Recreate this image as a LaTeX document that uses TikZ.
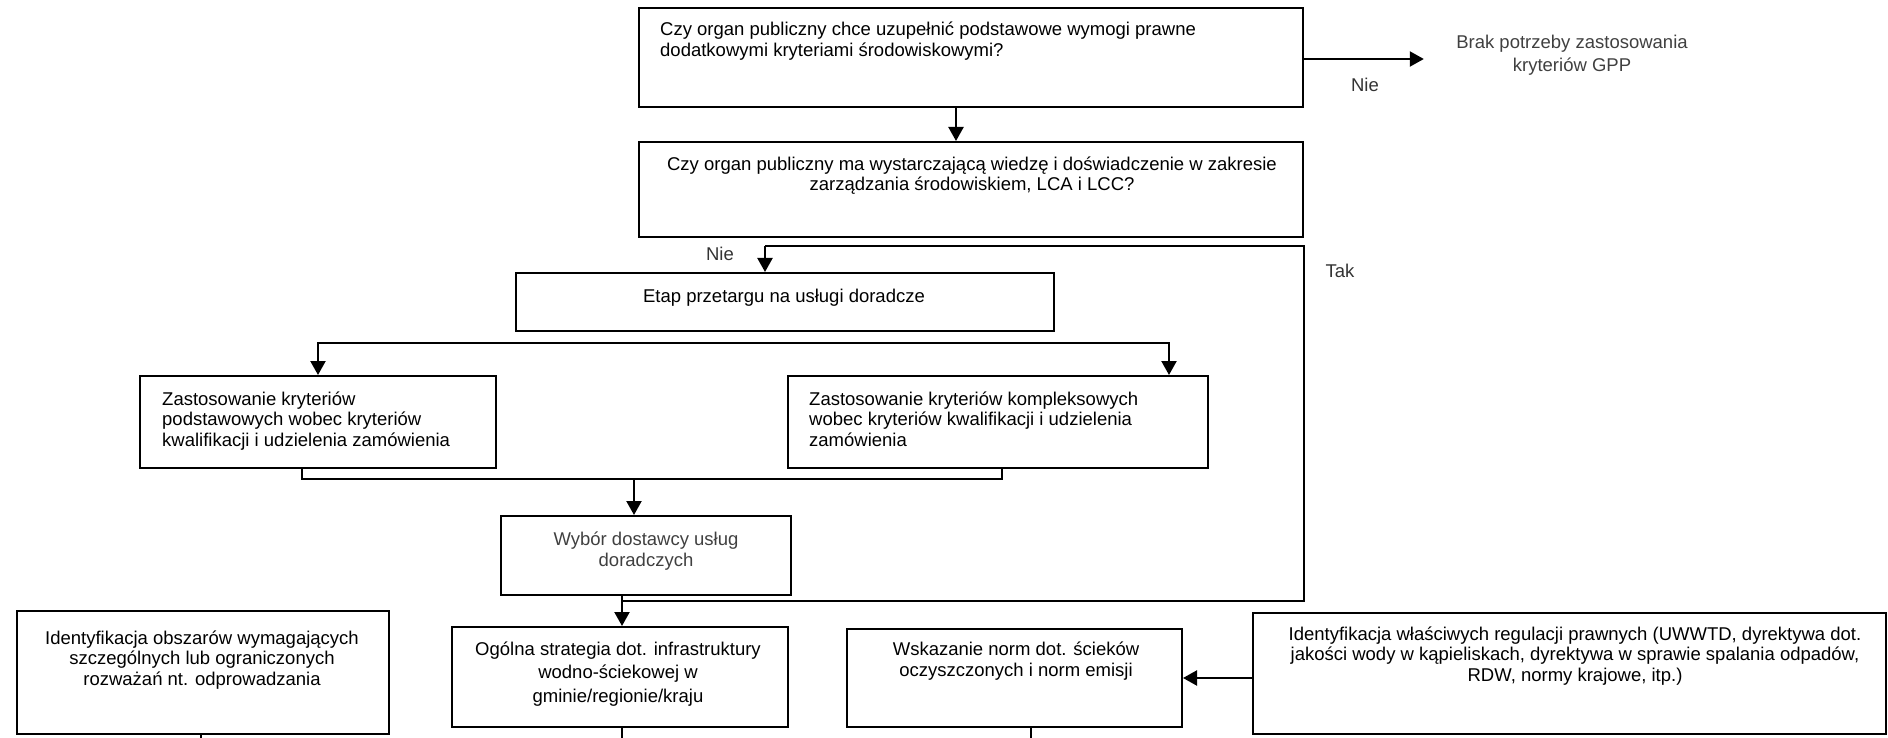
\documentclass[tikz,border=0pt]{standalone}
\usepackage{fontspec}
\setmainfont{Liberation Sans}
\usetikzlibrary{arrows.meta}
\definecolor{textgray}{HTML}{404040}
\definecolor{labgray}{HTML}{333333}
\newcommand{\mybox}[5]{\node[bx, minimum width={(#4-#2)*1pt}, minimum height={(#5-#3)*1pt}] (#1) at ({(#2+#4)/2},{(#3+#5)/2}) {};}
\begin{document}
\begin{tikzpicture}[x=1pt,y=-1pt,
  bx/.style={draw=black, line width=2pt, inner sep=0pt},
  ln/.style={draw=black, line width=2.2pt},
  arr/.style={ln, -{Triangle[length=14pt,width=15pt]}},
  tx/.style={inner sep=0pt, font=\fontsize{18.5}{20.5}\selectfont, text=black},
  gtx/.style={tx, text=textgray},
  lab/.style={tx, text=labgray}]
\useasboundingbox (0,0) rectangle (1888,738);

% boxes
\mybox{q1}{639}{8}{1303}{107}
\mybox{q2}{639}{142}{1303}{237}
\mybox{b3}{516}{273}{1054}{331}
\mybox{b4}{140}{376}{496}{468}
\mybox{b5}{788}{376}{1208}{468}
\mybox{b6}{501}{516}{791}{595}
\mybox{b7}{17}{611}{389}{734}
\mybox{b8}{452}{627}{788}{727}
\mybox{b9}{847}{629}{1182}{727}
\mybox{b10}{1253}{613}{1886}{734}

% texts
\node[tx, anchor=base west] (t1) at (660,36) {\parbox[t]{620pt}{\raggedright Czy organ publiczny chce uzupełnić podstawowe wymogi prawne\\dodatkowymi kryteriami środowiskowymi?}};
\node[tx, anchor=base] (t2) at (972,170.5) {\parbox[t]{650pt}{\centering Czy organ publiczny ma wystarczającą wiedzę i doświadczenie w zakresie\\zarządzania środowiskiem, LCA i LCC?}};
\node[tx, anchor=base] (t3) at (784,302) {Etap przetargu na usługi doradcze};
\node[tx, anchor=base west] (t4) at (162,405) {\parbox[t]{330pt}{\raggedright Zastosowanie kryteriów\\podstawowych wobec kryteriów\\kwalifikacji i udzielenia zamówienia}};
\node[tx, anchor=base west] (t5) at (809,405) {\parbox[t]{390pt}{\raggedright Zastosowanie kryteriów kompleksowych\\wobec kryteriów kwalifikacji i udzielenia\\zamówienia}};
\node[gtx, anchor=base] (t6) at (646,545) {\parbox[t]{280pt}{\centering\fontsize{18.5}{21}\selectfont Wybór dostawcy usług\\doradczych}};
\node[tx, anchor=base] (t7) at (202,644) {\parbox[t]{360pt}{\centering Identyfikacja obszarów wymagających\\szczególnych lub ograniczonych\\rozważań nt. odprowadzania}};
\node[tx, anchor=base] (t8) at (618,655) {\parbox[t]{330pt}{\centering\fontsize{18.5}{23.5}\selectfont Ogólna strategia dot. infrastruktury\\wodno-ściekowej w\\gminie/regionie/kraju}};
\node[tx, anchor=base] (t9) at (1016,655) {\parbox[t]{330pt}{\centering\fontsize{18.5}{21.5}\selectfont Wskazanie norm dot. ścieków\\oczyszczonych i norm emisji}};
\node[tx, anchor=base] (t10) at (1575,640) {\parbox[t]{625pt}{\centering\fontsize{18.5}{20.8}\selectfont Identyfikacja właściwych regulacji prawnych (UWWTD, dyrektywa dot.\\jakości wody w kąpieliskach, dyrektywa w sprawie spalania odpadów,\\RDW, normy krajowe, itp.)}};
\node[gtx, anchor=base] (brak) at (1572,49) {\parbox[t]{240pt}{\centering\fontsize{18.5}{22.5}\selectfont Brak potrzeby zastosowania\\kryteriów GPP}};

% labels
\node[lab, anchor=base] (nie1) at (1365,91.5) {Nie};
\node[lab, anchor=base] (nie2) at (720,261) {Nie};
\node[lab, anchor=base] (tak) at (1340,277) {Tak};

% helper coordinates
\coordinate (brakin) at ([xshift=-28pt]brak.west);
\coordinate (q1r) at ([yshift=-1.5pt]q1.east);
\coordinate (lt) at (765,246);
\coordinate (jn) at (622,601);
\coordinate (sL) at (318,343);
\coordinate (sR) at (1169,343);
\coordinate (jL) at (302,479);
\coordinate (jR) at (1002,479);
\coordinate (jA) at (634,479);
\coordinate (e7) at (201,738);
\coordinate (e8) at (622,738);
\coordinate (e9) at (1031,738);

% connectors
\draw[arr] ([xshift=-15pt]q1.south) -- ([xshift=-15pt]q2.north);
\draw[arr] (q1r) -- (brakin |- q1r);
\draw[ln] (lt) -- (q2.east |- lt) -- (q2.east |- jn) -- (jn);
\draw[arr] (lt) -- (lt |- b3.north);
\draw[ln, {Triangle[length=14pt,width=15pt]}-{Triangle[length=14pt,width=15pt]}] (b4.north -| sL) -- (sL) -- (sR) -- (b5.north -| sR);
\draw[ln] (b4.south -| jL) -- (jL) -- (jR) -- (b5.south -| jR);
\draw[arr] (jA) -- (b6.north -| jA);
\draw[arr] (b6.south -| jn) -- (b8.north -| jn);
\draw[arr] (b10.west |- b9.east) -- (b9.east);
\draw[ln] (b7.south -| e7) -- (e7);
\draw[ln] (b8.south -| e8) -- (e8);
\draw[ln] (b9.south -| e9) -- (e9);
\end{tikzpicture}
\end{document}
